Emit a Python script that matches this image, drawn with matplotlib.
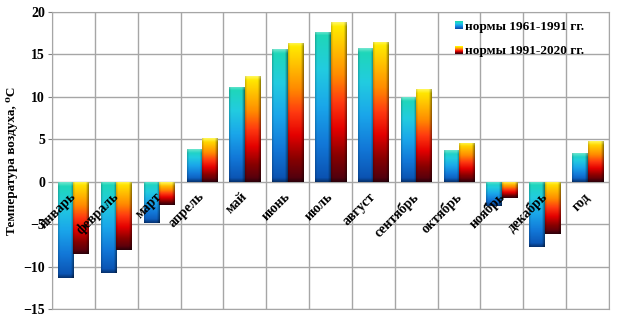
import numpy as np
import matplotlib
matplotlib.use('Agg')
import matplotlib.pyplot as plt
from matplotlib.colors import LinearSegmentedColormap
from matplotlib.patches import Rectangle
from matplotlib.legend_handler import HandlerBase

months = ['январь', 'февраль', 'март', 'апрель', 'май', 'июнь', 'июль',
          'август', 'сентябрь', 'октябрь', 'ноябрь', 'декабрь', 'год']
norm_1961 = [-11.3, -10.8, -4.9, 3.8, 11.2, 15.6, 17.7, 15.7, 10.0, 3.7, -2.9, -7.7, 3.4]
norm_1991 = [-8.5, -8.1, -2.7, 5.1, 12.4, 16.4, 18.8, 16.5, 10.9, 4.6, -1.9, -6.2, 4.8]
series_names = ['нормы 1961-1991 гг.', 'нормы 1991-2020 гг.']

blue_cols = ['#1ed8b4', '#22cce0', '#1aa6ea', '#1278d8', '#0a4fae']
warm_cols = ['#fff200', '#ffbe00', '#ff8a00', '#ff3a10', '#e40000', '#8a0000', '#4a0010']
cmap_blue = LinearSegmentedColormap.from_list('b', blue_cols)
cmap_warm = LinearSegmentedColormap.from_list('w', warm_cols)

plt.rcParams['font.family'] = ['Liberation Serif', 'DejaVu Serif']
plt.rcParams['font.weight'] = 'bold'
plt.rcParams['font.size'] = 9.5

fig = plt.figure(figsize=(6.2, 3.2), dpi=100)
ax = fig.add_axes([0.0839, 0.0344, 0.8984, 0.9281])

x = np.arange(len(months))
w = 0.36
bars1 = ax.bar(x - w / 2, norm_1961, w, color='none', zorder=3)
bars2 = ax.bar(x + w / 2, norm_1991, w, color='none', zorder=3)


def paint(bar, cmap):
    bx, by = bar.get_x(), bar.get_y()
    bw, bh = bar.get_width(), bar.get_height()
    y0, y1 = min(by, by + bh), max(by, by + bh)
    rows, cols = 120, 30
    t = np.linspace(0, 1, rows)[:, None]
    img = cmap(np.repeat(t, cols, axis=1))[:, :, :3]
    # bevel: light cap at top, dark rim at bottom, shaded sides
    span = y1 - y0
    yy = np.linspace(0, span, rows)[:, None]
    cap = np.clip(1 - yy / 0.45, 0, 1)
    rim = np.clip(1 - (span - yy) / 0.45, 0, 1)
    xs = np.linspace(0, 1, cols)[None, :]
    side = 1 - 0.45 * np.clip((xs - 0.82) / 0.18, 0, 1) - 0.2 * np.clip((0.12 - xs) / 0.12, 0, 1)
    img = img * side[:, :, None]
    img = img + (1 - img) * 0.35 * cap[:, :, None]
    img = img * (1 - 0.35 * rim[:, :, None])
    im = ax.imshow(np.clip(img, 0, 1), extent=[bx, bx + bw, y0, y1], origin='upper',
                   aspect='auto', interpolation='bilinear', zorder=3)
    im.set_clip_path(bar)


for b in bars1:
    paint(b, cmap_blue)
for b in bars2:
    paint(b, cmap_warm)

ax.set_xlim(-0.5, len(months) - 0.5)
ax.set_ylim(-15, 20)
ax.set_yticks(np.arange(-15, 21, 5))
ax.set_xticks([])
ax.set_xticks(np.arange(-0.5, len(months), 1), minor=True)
ax.grid(True, which='minor', axis='x', color='#a6a6a6', lw=1, zorder=0)
ax.grid(True, which='major', axis='y', color='#a6a6a6', lw=1, zorder=0)
ax.tick_params(axis='x', which='minor', length=0)
ax.tick_params(axis='y', length=3, color='#808080', pad=2, labelsize=10)
for s in ax.spines.values():
    s.set_color('#a6a6a6')

for xi, name in zip(x, months):
    ax.annotate(name, xy=(xi, 0), xytext=(-3, -6), textcoords='offset points',
                rotation=45, ha='right', va='top', rotation_mode='anchor',
                fontsize=10, fontweight='bold', zorder=5)

ax.set_ylabel('Температура воздуха, ⁰С', fontweight='bold', labelpad=4)


class GradHandler(HandlerBase):
    def __init__(self, cmap):
        super().__init__()
        self.cmap = cmap

    def create_artists(self, legend, orig_handle, xdescent, ydescent, width, height, fontsize, trans):
        n = 8
        out = []
        for i in range(n):
            r = Rectangle((-xdescent, -ydescent + height * (n - 1 - i) / n), width, height / n,
                          facecolor=self.cmap(i / (n - 1)), edgecolor='none', transform=trans)
            out.append(r)
        return out


h1 = Rectangle((0, 0), 1, 1)
h2 = Rectangle((0, 0), 1, 1)
ax.legend([h1, h2], series_names, loc='upper left', bbox_to_anchor=(0.703, 1.01),
          frameon=False, labelspacing=0.95, handlelength=0.55, handleheight=0.55,
          handletextpad=0.15, prop={'weight': 'bold', 'size': 9.5},
          handler_map={h1: GradHandler(cmap_blue), h2: GradHandler(cmap_warm)})

fig.savefig('out.png', dpi=100)
